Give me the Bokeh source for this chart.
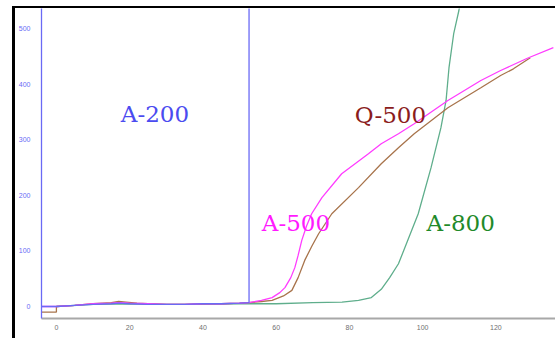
from bokeh.plotting import figure
from bokeh.models import Range1d, FixedTicker
from bokeh.core.properties import value
from bokeh.embed import file_html
from bokeh.resources import INLINE

# ---- data ----
a200_x = [-4, 0, 5, 10, 15, 17, 20, 25, 30, 35, 40, 45, 50, 52.6, 52.6]
a200_y = [0, 0, 2, 4, 5, 6, 5, 4, 4, 4, 5, 5, 6, 7, 650]

a500_x = [-4, 0, 5, 10, 15, 17, 20, 25, 30, 35, 40, 45, 50, 52.6, 56, 58.9, 61, 62.4, 64, 65.1, 66, 67.0,
          68.3, 69.7, 72.5, 77.9, 85.2, 88.7, 93.4, 97.7, 106.9, 115.9, 121.3, 128.6, 135.7]
a500_y = [0, 0, 2, 5, 6, 7, 6, 5, 4, 4, 5, 5, 6, 7, 11, 16, 25, 34, 52, 70, 92, 119,
          145, 167, 196, 239, 275, 293, 311, 329, 371, 407, 425, 447, 466]

q500_x = [-4, 0, 0, 5, 10, 15, 17, 19, 22, 25, 30, 35, 40, 45, 50, 52.6, 56, 58.9, 62, 64.3, 66, 67.8,
          69.7, 71.6, 75.2, 82.5, 88.7, 93.4, 97.7, 106.9, 115.9, 121.3, 124.8, 129.4]
q500_y = [-10, -10, 0, 2, 5, 7, 9, 8, 6, 5, 4, 4, 5, 5, 6, 7, 9, 11, 19, 29, 52, 83,
          108, 131, 167, 214, 257, 286, 311, 358, 394, 416, 428, 448]

a800_x = [0, 10, 20, 30, 40, 50, 60, 70, 78, 82.5, 86, 88.7, 91, 93.4, 96, 98.8, 102.3,
          105.0, 106.4, 107.2, 108.5, 109.9, 110.6]
a800_y = [0, 4, 5, 4, 4, 5, 5, 7, 8, 11, 16, 31, 52, 77, 120, 167, 250,
          322, 371, 430, 492, 533, 560]

label_text = ["A-200", "Q-500", "A-500", "A-800"]
label_x = [26.9, 91.2, 65.4, 110.4]
label_y = [346, 344, 151, 151]
label_color = ["#4b4bf0", "#8b1c1c", "#ff1aff", "#1f8a2a"]

x_ticks = [0, 20, 40, 60, 80, 100, 120]
y_ticks = [0, 100, 200, 300, 400, 500]

# ---- figure ----
p = figure(width=543, height=332, output_backend="svg", toolbar_location=None,
           x_range=Range1d(-4.07, 137.1), y_range=Range1d(-21.6, 536.6),
           min_border_left=23, min_border_right=0, min_border_top=0, min_border_bottom=22)
p.styles = {"border-left": "3px solid black", "border-top": "2px solid black",
            "position": "relative", "left": "12px", "top": "6px"}
p.background_fill_color = "white"
p.border_fill_color = "white"
p.outline_line_color = None
p.xgrid.visible = False
p.ygrid.visible = False

# curves
p.line(a800_x, a800_y, line_color="#5fae8c", line_width=1.3)
p.line(q500_x, q500_y, line_color="#a8744c", line_width=1.3)
p.line(a500_x, a500_y, line_color="#ff3cff", line_width=1.3)
p.line(a200_x, a200_y, line_color="#6a6af5", line_width=1.3)

# labels
p.text(x=label_x, y=label_y, text=label_text, text_color=label_color,
       text_font=value("DejaVu Serif"), text_font_size="23px",
       text_align="center", text_baseline="middle")

# axes
xa = p.xaxis[0]
xa.ticker = FixedTicker(ticks=x_ticks)
xa.axis_line_color = "#a8a8a8"
xa.axis_line_width = 2
xa.major_tick_line_color = None
xa.major_tick_in = 0
xa.major_tick_out = 0
xa.minor_tick_line_color = None
xa.major_label_text_font = "Liberation Sans"
xa.major_label_text_font_size = "7px"
xa.major_label_text_color = "#707070"
xa.major_label_standoff = 6

ya = p.yaxis[0]
ya.ticker = FixedTicker(ticks=y_ticks)
ya.axis_line_color = "#6a6af5"
ya.axis_line_width = 1.3
ya.major_tick_line_color = None
ya.major_tick_out = 0
ya.major_tick_in = 0
ya.minor_tick_line_color = None
ya.major_label_text_font = "Liberation Sans"
ya.major_label_text_font_size = "7px"
ya.major_label_text_color = "#6a6af5"
ya.major_label_standoff = 11

open("out.html", "w").write(file_html(p, INLINE))
